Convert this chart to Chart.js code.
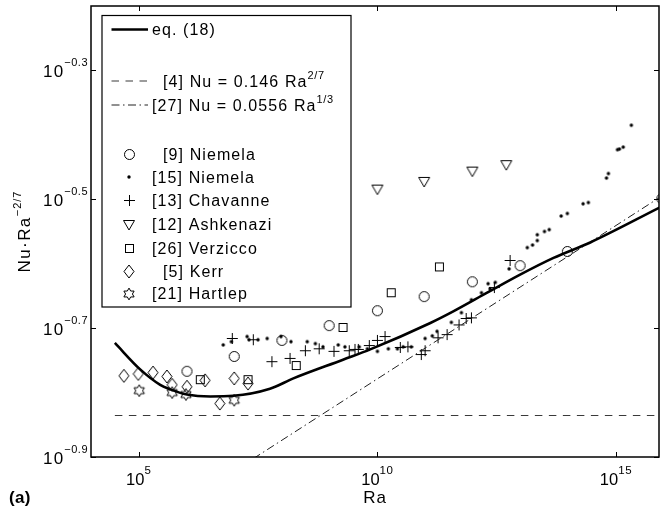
<!DOCTYPE html>
<html>
<head>
<meta charset="utf-8">
<title>Nu·Ra^-2/7 versus Ra</title>
<script src="https://cdn.jsdelivr.net/npm/chart.js@4/dist/chart.umd.min.js"></script>
<style>
  html, body { margin: 0; padding: 0; background: #fff; }
  #plot { display: block; }
</style>
</head>
<body>
<canvas id="plot" width="661" height="510"></canvas>
<script>
// All values are decade exponents: log10(Ra) and log10(Nu·Ra^-2/7).

// eq. (18)
const eq18LogRa = [4.50, 5.03, 5.45, 5.66, 6.01, 6.50, 6.98, 7.75, 8.24, 9.28, 9.85, 11.11, 11.59, 12.30, 12.99, 13.69, 14.46, 15.91];
const eq18LogNu = [-0.723, -0.764, -0.788, -0.795, -0.803, -0.806, -0.805, -0.794, -0.778, -0.749, -0.733, -0.692, -0.674, -0.645, -0.617, -0.591, -0.567, -0.513];

// [4] Nu = 0.146 Ra^(2/7)
const ref4LogRa = [4.50, 15.95];
const ref4LogNu = [-0.8356, -0.8356];

// [27] Nu = 0.0556 Ra^(1/3)
const ref27LogRa = [7.40, 15.95];
const ref27LogNu = [-0.9025, -0.4954];

// [9] Niemela
const niemela9LogRa = [6.01, 7.00, 8.00, 8.99, 10.00, 10.98, 11.99, 12.99, 13.98, 15.96];
const niemela9LogNu = [-0.767, -0.744, -0.719, -0.696, -0.673, -0.651, -0.628, -0.603, -0.581, -0.499];

// [15] Niemela
const niemela15LogRa = [6.77, 6.94, 7.27, 7.31, 7.50, 7.69, 7.98, 8.19, 8.53, 8.70,
                        8.86, 9.18, 9.32, 9.62, 9.79, 10.00, 10.23, 10.42, 10.54, 10.71,
                        11.00, 11.15, 11.25, 11.55, 11.76, 11.97, 12.18, 12.32, 12.36, 12.47,
                        12.76, 13.14, 13.25, 13.35, 13.35, 13.50, 13.60, 13.85, 13.98, 14.31,
                        14.42, 14.80, 14.84, 15.03, 15.07, 15.15, 15.32];
const niemela15LogNu = [-0.726, -0.721, -0.713, -0.718, -0.718, -0.716, -0.713, -0.721, -0.721, -0.724,
                        -0.729, -0.726, -0.729, -0.729, -0.732, -0.736, -0.732, -0.732, -0.729, -0.729,
                        -0.716, -0.712, -0.705, -0.691, -0.676, -0.656, -0.645, -0.631, -0.639, -0.629,
                        -0.608, -0.575, -0.571, -0.564, -0.555, -0.550, -0.547, -0.526, -0.522, -0.507,
                        -0.505, -0.467, -0.460, -0.423, -0.422, -0.419, -0.385];

// [13] Chavanne
const chavanneLogRa = [6.96, 7.40, 7.79, 8.17, 8.49, 8.78, 9.09, 9.41, 9.53, 9.60,
                       9.83, 10.00, 10.16, 10.48, 10.64, 10.92, 11.00, 11.27, 11.46, 11.71,
                       11.86, 11.97, 12.45, 12.78];
const chavanneLogNu = [-0.716, -0.718, -0.752, -0.747, -0.735, -0.732, -0.736, -0.735, -0.733, -0.733,
                       -0.727, -0.719, -0.713, -0.730, -0.729, -0.741, -0.735, -0.715, -0.710, -0.695,
                       -0.685, -0.684, -0.637, -0.595];

// [12] Ashkenazi
const ashkenaziLogRa = [10.00, 10.98, 11.99, 12.70];
const ashkenaziLogNu = [-0.485, -0.473, -0.457, -0.447];

// [26] Verzicco
const verziccoLogRa = [6.29, 7.29, 8.30, 9.28, 10.29, 11.30];
const verziccoLogNu = [-0.780, -0.780, -0.758, -0.699, -0.645, -0.605];

// [5] Kerr
const kerrLogRa = [4.69, 4.99, 5.30, 5.59, 5.70, 6.01, 6.39, 6.70, 7.00, 7.29];
const kerrLogNu = [-0.774, -0.771, -0.769, -0.775, -0.788, -0.791, -0.781, -0.817, -0.778, -0.786];

// [21] Hartlep
const hartlepLogRa = [5.01, 5.70, 5.99, 7.00];
const hartlepLogNu = [-0.797, -0.800, -0.803, -0.812];

// Axis ticks (decade exponents) and limits
const xTickExps = [5, 10, 15];
const yTickExps = [-0.9, -0.7, -0.5, -0.3];
const xLimExps = [4, 15.9];
const yLimExps = [-0.9, -0.2];

const FAMILY = '"Liberation Sans", Arial, Helvetica, sans-serif';

function toPoints(logRa, logNu) {
  return logRa.map((v, i) => ({ x: Math.pow(10, v), y: Math.pow(10, logNu[i]) }));
}

// ---- marker glyphs (open symbols, thin black strokes) ----
function markerCanvas(w, h, draw) {
  const c = document.createElement('canvas');
  c.width = w; c.height = h;
  const g = c.getContext('2d');
  g.strokeStyle = '#000'; g.fillStyle = '#000'; g.lineWidth = 1;
  draw(g, w / 2, h / 2);
  return c;
}
const markers = {
  circle: markerCanvas(13, 13, (g, cx, cy) => { g.beginPath(); g.arc(cx, cy, 5, 0, Math.PI * 2); g.stroke(); }),
  dot: markerCanvas(6, 6, (g, cx, cy) => { g.beginPath(); g.arc(cx, cy, 1.7, 0, Math.PI * 2); g.fill(); }),
  plus: markerCanvas(13, 13, (g, cx, cy) => {
    g.beginPath(); g.moveTo(1, cy); g.lineTo(12, cy); g.moveTo(cx, 1); g.lineTo(cx, 12); g.stroke();
  }),
  triangleDown: markerCanvas(14, 12, (g) => {
    g.beginPath(); g.moveTo(1.5, 1.5); g.lineTo(12.5, 1.5); g.lineTo(7, 11); g.closePath(); g.stroke();
  }),
  square: markerCanvas(11, 11, (g) => { g.strokeRect(1.5, 1.5, 8, 8); }),
  diamond: markerCanvas(12, 15, (g) => {
    g.beginPath(); g.moveTo(6, 1); g.lineTo(11, 7.5); g.lineTo(6, 14); g.lineTo(1, 7.5); g.closePath(); g.stroke();
  }),
  hexagram: markerCanvas(14, 14, (g, cx, cy) => {
    const R = 5.9, r = R / Math.sqrt(3);
    g.beginPath();
    for (let k = 0; k < 12; k++) {
      const a = -Math.PI / 2 + k * Math.PI / 6;
      const rad = k % 2 === 0 ? R : r;
      const px = cx + rad * Math.cos(a), py = cy + rad * Math.sin(a);
      if (k === 0) g.moveTo(px, py); else g.lineTo(px, py);
    }
    g.closePath(); g.stroke();
  })
};

const DASH_REF4 = [7.5, 6.5];
const DASH_REF27 = [8, 3.5, 1.5, 3.5];

function lineSet(logRa, logNu, width, color, dash, smooth) {
  return {
    data: toPoints(logRa, logNu), showLine: true, borderColor: color, borderWidth: width,
    borderDash: dash, pointRadius: 0, pointHoverRadius: 0, fill: false,
    cubicInterpolationMode: smooth ? 'monotone' : 'default', tension: 0
  };
}
function markerSet(logRa, logNu, glyph) {
  return {
    data: toPoints(logRa, logNu), showLine: false, pointStyle: glyph,
    pointRadius: 7, pointHoverRadius: 7, borderWidth: 0
  };
}

const datasets = [
  lineSet(eq18LogRa, eq18LogNu, 2.6, '#000', [], true),
  lineSet(ref4LogRa, ref4LogNu, 1.2, '#3a3a3a', DASH_REF4, false),
  lineSet(ref27LogRa, ref27LogNu, 1.0, '#222', DASH_REF27, false),
  markerSet(niemela9LogRa, niemela9LogNu, markers.circle),
  markerSet(niemela15LogRa, niemela15LogNu, markers.dot),
  markerSet(chavanneLogRa, chavanneLogNu, markers.plus),
  markerSet(ashkenaziLogRa, ashkenaziLogNu, markers.triangleDown),
  markerSet(verziccoLogRa, verziccoLogNu, markers.square),
  markerSet(kerrLogRa, kerrLogNu, markers.diamond),
  markerSet(hartlepLogRa, hartlepLogNu, markers.hexagram)
];

// ---- text with superscripts ----
function setFont(ctx, size, spacing, bold) {
  ctx.font = (bold ? 'bold ' : '') + size + 'px ' + FAMILY;
  if ('letterSpacing' in ctx) ctx.letterSpacing = spacing + 'px';
}
function drawRich(ctx, parts, x, y, align, st) {
  const widths = [];
  let total = 0;
  parts.forEach(([t, sup]) => {
    setFont(ctx, sup ? st.sup : st.main, sup ? st.supSp : st.sp);
    const w = ctx.measureText(t).width;
    widths.push(w); total += w;
  });
  let cx = align === 'center' ? x - total / 2 : (align === 'right' ? x - total : x);
  ctx.textAlign = 'left';
  ctx.textBaseline = 'alphabetic';
  parts.forEach(([t, sup], i) => {
    setFont(ctx, sup ? st.sup : st.main, sup ? st.supSp : st.sp);
    ctx.fillText(t, cx, sup ? y - st.raise : y);
    cx += widths[i];
  });
}

const legendRows = [
  { y: 29.5, line: { width: 2.6, dash: [], color: '#000' }, x: 152, parts: [['eq. (18)', false]] },
  { y: 81, line: { width: 1.2, dash: DASH_REF4, color: '#3a3a3a' }, x: 163, parts: [['[4] Nu = 0.146 Ra', false], ['2/7', true]] },
  { y: 105, line: { width: 1.0, dash: DASH_REF27, color: '#222' }, x: 152, parts: [['[27] Nu = 0.0556 Ra', false], ['1/3', true]] },
  { y: 154, glyph: markers.circle, x: 163, parts: [['[9] Niemela', false]] },
  { y: 177, glyph: markers.dot, x: 152, parts: [['[15] Niemela', false]] },
  { y: 200.5, glyph: markers.plus, x: 152, parts: [['[13] Chavanne', false]] },
  { y: 224.5, glyph: markers.triangleDown, x: 152, parts: [['[12] Ashkenazi', false]] },
  { y: 248, glyph: markers.square, x: 152, parts: [['[26] Verzicco', false]] },
  { y: 271.5, glyph: markers.diamond, x: 163, parts: [['[5] Kerr', false]] },
  { y: 293.5, glyph: markers.hexagram, x: 152, parts: [['[21] Hartlep', false]] }
];

const axesFrame = {
  id: 'axesFrame',
  beforeDraw(chart) {
    const ctx = chart.ctx;
    ctx.save();
    ctx.fillStyle = '#fff';
    ctx.fillRect(0, 0, chart.width, chart.height);
    ctx.restore();
  },
  afterDraw(chart) {
    const ctx = chart.ctx;
    const a = chart.chartArea;
    const xs = chart.scales.x, ys = chart.scales.y;
    const tickLen = 5;
    ctx.save();
    ctx.strokeStyle = '#000';
    ctx.fillStyle = '#000';

    // box
    ctx.lineWidth = 1.5;
    ctx.strokeRect(a.left, a.top, a.right - a.left, a.bottom - a.top);

    // ticks on all four sides, pointing inward
    ctx.lineWidth = 1;
    ctx.beginPath();
    xTickExps.forEach(e => {
      const px = Math.round(xs.getPixelForValue(Math.pow(10, e))) + 0.5;
      ctx.moveTo(px, a.bottom); ctx.lineTo(px, a.bottom - tickLen);
      ctx.moveTo(px, a.top); ctx.lineTo(px, a.top + tickLen);
    });
    yTickExps.forEach(e => {
      const py = Math.round(ys.getPixelForValue(Math.pow(10, e))) + 0.5;
      ctx.moveTo(a.left, py); ctx.lineTo(a.left + tickLen, py);
      ctx.moveTo(a.right, py); ctx.lineTo(a.right - tickLen, py);
    });
    ctx.stroke();

    // tick labels
    xTickExps.forEach(e => {
      const px = xs.getPixelForValue(Math.pow(10, e));
      drawRich(ctx, [['10', false], [String(e), true]], px, a.bottom + 28,
        'center', { main: 16.5, sup: 11.5, sp: 0, supSp: 0.6, raise: 11 });
    });
    yTickExps.forEach(e => {
      const py = ys.getPixelForValue(Math.pow(10, e));
      const lbl = '\u2212' + Math.abs(e).toFixed(1);
      drawRich(ctx, [['10', false], [lbl, true]], a.left - 3, py + 6.5,
        'right', { main: 17, sup: 11, sp: 1.2, supSp: 0.5, raise: 11 });
    });

    // axis titles
    drawRich(ctx, [['Ra', false]], (a.left + a.right) / 2, 503, 'center',
      { main: 17, sup: 11, sp: 1, supSp: 0.5, raise: 9 });
    ctx.save();
    ctx.translate(30, (a.top + a.bottom) / 2);
    ctx.rotate(-Math.PI / 2);
    drawRich(ctx, [['Nu\u00B7Ra', false], ['\u22122/7', true]], 0, 0, 'center',
      { main: 17, sup: 11, sp: 1.4, supSp: 1, raise: 9.5 });
    ctx.restore();

    // panel tag
    setFont(ctx, 17, 0.3, true);
    ctx.textAlign = 'left';
    ctx.textBaseline = 'alphabetic';
    ctx.fillText('(a)', 9, 503);

    // legend
    const box = { l: 102, t: 15.5, r: 351, b: 307 };
    ctx.fillStyle = '#fff';
    ctx.fillRect(box.l, box.t, box.r - box.l, box.b - box.t);
    ctx.lineWidth = 1.2;
    ctx.strokeStyle = '#000';
    ctx.strokeRect(box.l, box.t, box.r - box.l, box.b - box.t);
    ctx.fillStyle = '#000';
    legendRows.forEach(row => {
      if (row.line) {
        ctx.save();
        ctx.lineWidth = row.line.width;
        ctx.strokeStyle = row.line.color;
        ctx.setLineDash(row.line.dash);
        ctx.beginPath();
        ctx.moveTo(111.5, row.y); ctx.lineTo(148, row.y);
        ctx.stroke();
        ctx.restore();
      } else {
        const g = row.glyph;
        ctx.drawImage(g, Math.round(129 - g.width / 2), Math.round(row.y - g.height / 2));
      }
      drawRich(ctx, row.parts, row.x, row.y + 5.8, 'left',
        { main: 16, sup: 11, sp: 1.1, supSp: 0.6, raise: 7.5 });
    });
    ctx.restore();
  }
};

new Chart(document.getElementById('plot'), {
  type: 'scatter',
  data: { datasets },
  options: {
    responsive: false,
    animation: false,
    devicePixelRatio: 1,
    events: [],
    layout: { autoPadding: false, padding: { left: 91, right: 2, top: 6, bottom: 53 } },
    plugins: { legend: { display: false }, tooltip: { enabled: false }, title: { display: false } },
    scales: {
      x: {
        type: 'logarithmic',
        min: Math.pow(10, xLimExps[0]), max: Math.pow(10, xLimExps[1]),
        ticks: { display: false }, grid: { display: false }, border: { display: false },
        afterFit(s) { s.height = 0; }
      },
      y: {
        type: 'logarithmic',
        min: Math.pow(10, yLimExps[0]), max: Math.pow(10, yLimExps[1]),
        ticks: { display: false }, grid: { display: false }, border: { display: false },
        afterFit(s) { s.width = 0; }
      }
    }
  },
  plugins: [axesFrame]
});
</script>
</body>
</html>
